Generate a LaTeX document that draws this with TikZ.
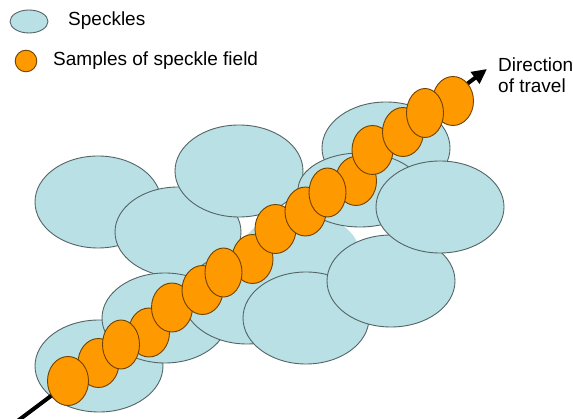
\documentclass[tikz,border=0pt]{standalone}
\usepackage{fontspec}
\setmainfont{Liberation Sans}
\usetikzlibrary{arrows.meta}
\definecolor{speckleBlue}{HTML}{B9E0E4}
\definecolor{speckleEdge}{HTML}{556466}
\definecolor{sampleOrange}{HTML}{FF9900}
\definecolor{sampleEdge}{HTML}{6E4200}

\begin{document}
\begin{tikzpicture}[x=1pt, y=-1pt,
    speckle/.style={fill=speckleBlue, draw=speckleEdge, line width=0.9pt},
    sample/.style={fill=sampleOrange, draw=sampleEdge, line width=0.9pt},
    keytext/.style={anchor=base west, inner sep=0pt, font=\fontsize{19}{21}\selectfont}]

    \path[fill=white, use as bounding box] (0,0) rectangle (573,419);

    % legend
    \draw[speckle] (29,21.5) ellipse [x radius=19, y radius=11.5];
    \node[keytext] (speckleKey) at (68,26) {Speckles};
    \draw[sample] (26,61) circle [radius=10.8];
    \node[keytext] (sampleKey) at (53,65.5) {Samples of speckle field};

    % speckles, back to front
    \foreach \cx/\cy/\rx/\ry in {98/202/63/46, 178/232/63/45, 99/366/64/46,
        165/318/63/45, 247/298/64/46}
        \draw[speckle] (\cx,\cy) ellipse [x radius=\rx, y radius=\ry];
    % speckle hidden behind the others
    \fill[speckleBlue] (300,255) ellipse [x radius=60, y radius=42];
    \foreach \cx/\cy/\rx/\ry in {239/171/64/46, 386/148/64/46, 360/190/62/37,
        306/318/63/46, 391/281/64/46, 440/207/64/46}
        \draw[speckle] (\cx,\cy) ellipse [x radius=\rx, y radius=\ry];

    % direction of travel
    \coordinate (tail) at (17.5,421);
    \coordinate (head) at (487,69);
    \draw[line width=4pt, -{Triangle[length=15pt, width=14pt]}] (tail) -- (head);
    \node[keytext] (travelTop) at (498,72) {Direction};
    \node[keytext] (travelBottom) at (498,93) {of travel};

    % samples along the path
    \foreach \cx/\cy/\rx in {98.5/363/20.5, 68/381/20.5, 149/332.5/20.5,
        121/344.5/18.5, 172/307.5/20.5, 202.5/290/20.5, 252.5/259/20.5,
        223.5/272.5/18.5, 275.5/229/20.5, 305.5/211.5/20.5, 356/181/20.5,
        327.5/192.5/18.5, 372.5/150/20.5, 403/132/20.5, 453/101/20.5,
        425/113/18.5}
        \draw[sample] (\cx,\cy) ellipse [x radius=\rx, y radius=24.5];

\end{tikzpicture}
\end{document}
